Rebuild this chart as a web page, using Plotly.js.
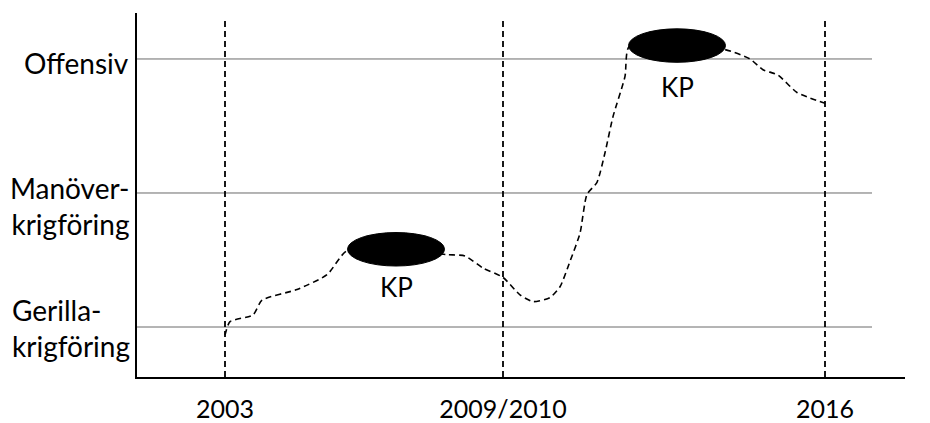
<!DOCTYPE html>
<html>
<head>
<meta charset="utf-8">
<script src="https://cdn.plot.ly/plotly-3.0.1.min.js"></script>
<style>html,body{margin:0;padding:0;background:#fff;}#chart{width:930px;height:423px;}</style>
</head>
<body>
<div id="chart"></div>
<script>
// ---- data (time index: 2003 = 0; level: 1 = Gerilla, 2 = Manöver, 3 = Offensiv)
const eraLabels = ['2003', '2009/2010', '2016'];
const eraPos = [0, 27.8, 60];
const levelLabels = ['Gerilla-<br>krigföring', 'Manöver-<br>krigföring', 'Offensiv'];
const levelVals = [1, 2, 3];
const curveX = [0, 0.5, 2.8, 3.7, 7.2, 10.2, 12.2, 17.1, 22.2, 24.0, 25.8, 27.8, 29.5, 30.8, 32.5, 33.5, 34.5, 35.5, 36.2, 37.2, 38.0, 38.8, 40.0, 40.4, 45.2, 50.0, 52.5, 53.8, 55.3, 57.2, 60.0];
const curveY = [0.94, 1.04, 1.09, 1.20, 1.28, 1.39, 1.57, 1.58, 1.54, 1.53, 1.44, 1.37, 1.24, 1.19, 1.22, 1.30, 1.49, 1.70, 1.99, 2.08, 2.30, 2.57, 2.87, 3.09, 3.10, 3.07, 3.00, 2.92, 2.88, 2.75, 2.67];
const kpLabels = ['KP', 'KP'];
const kpX = [17.1, 45.2];
const kpY = [1.58, 3.10];

// ---- styling
const FONT = 'Lato, Open Sans, sans-serif';
const FS_LEVEL = 28, FS_TICK = 25, FS_KP = 26;
const xMin = -8.8, xMax = 68, yMin = 0.627, yMax = 3.343;
const gridEnd = 64.7, vTop = 3.29;
const kpRx = 4.85, kpRy = 0.125;

const shapes = [];
levelVals.forEach(v => shapes.push({type: 'line', xref: 'x', yref: 'y', x0: xMin, x1: gridEnd, y0: v, y1: v, line: {color: '#6a6a6a', width: 1}, layer: 'below'}));
eraPos.forEach(p => shapes.push({type: 'line', xref: 'x', yref: 'y', x0: p, x1: p, y0: yMin, y1: vTop, line: {color: '#000', width: 1.8, dash: '6px,4px'}, layer: 'below'}));
kpX.forEach((cx, i) => shapes.push({type: 'circle', xref: 'x', yref: 'y', x0: cx - kpRx, x1: cx + kpRx, y0: kpY[i] - kpRy, y1: kpY[i] + kpRy, fillcolor: '#000', line: {color: '#000', width: 1}, layer: 'above'}));

const annotations = [];
const levelAnchor = [
  {x: -0.166, xanchor: 'left', align: 'left', y: 0.99},
  {x: -0.0078, xanchor: 'right', align: 'right', y: 1.90},
  {x: -0.0078, xanchor: 'right', align: 'right', y: 2.97}
];
levelLabels.forEach((t, i) => annotations.push({
  text: t, xref: 'paper', yref: 'y', x: levelAnchor[i].x, y: levelAnchor[i].y,
  xanchor: levelAnchor[i].xanchor, yanchor: 'middle', align: levelAnchor[i].align,
  showarrow: false, font: {family: FONT, size: FS_LEVEL, color: '#000'}
}));
const kpLabelDy = [-0.28, -0.31];
kpLabels.forEach((t, i) => annotations.push({
  text: t, xref: 'x', yref: 'y', x: kpX[i], y: kpY[i] + kpLabelDy[i],
  xanchor: 'center', yanchor: 'middle', showarrow: false,
  font: {family: FONT, size: FS_KP, color: '#000'}
}));

const traces = [{
  type: 'scatter', mode: 'lines', x: curveX, y: curveY,
  line: {color: '#000', width: 1.6, dash: '6px,4px', shape: 'spline', smoothing: 0.6},
  hoverinfo: 'skip'
}];

const layout = {
  width: 930, height: 423,
  margin: {l: 137, r: 25, t: 13, b: 46},
  paper_bgcolor: '#fff', plot_bgcolor: '#fff',
  showlegend: false,
  font: {family: FONT, size: FS_TICK, color: '#000'},
  xaxis: {
    range: [xMin, xMax], showgrid: false, zeroline: false,
    showline: true, linecolor: '#000', linewidth: 2,
    tickmode: 'array', tickvals: eraPos, ticktext: eraLabels,
    ticks: '', ticklabelstandoff: 9,
    tickfont: {family: FONT, size: FS_TICK, color: '#000'}
  },
  yaxis: {
    range: [yMin, yMax], showgrid: false, zeroline: false,
    showline: true, linecolor: '#000', linewidth: 2,
    showticklabels: false, ticks: ''
  },
  shapes: shapes,
  annotations: annotations
};

Plotly.newPlot('chart', traces, layout, {displayModeBar: false, staticPlot: true});
</script>
</body>
</html>
